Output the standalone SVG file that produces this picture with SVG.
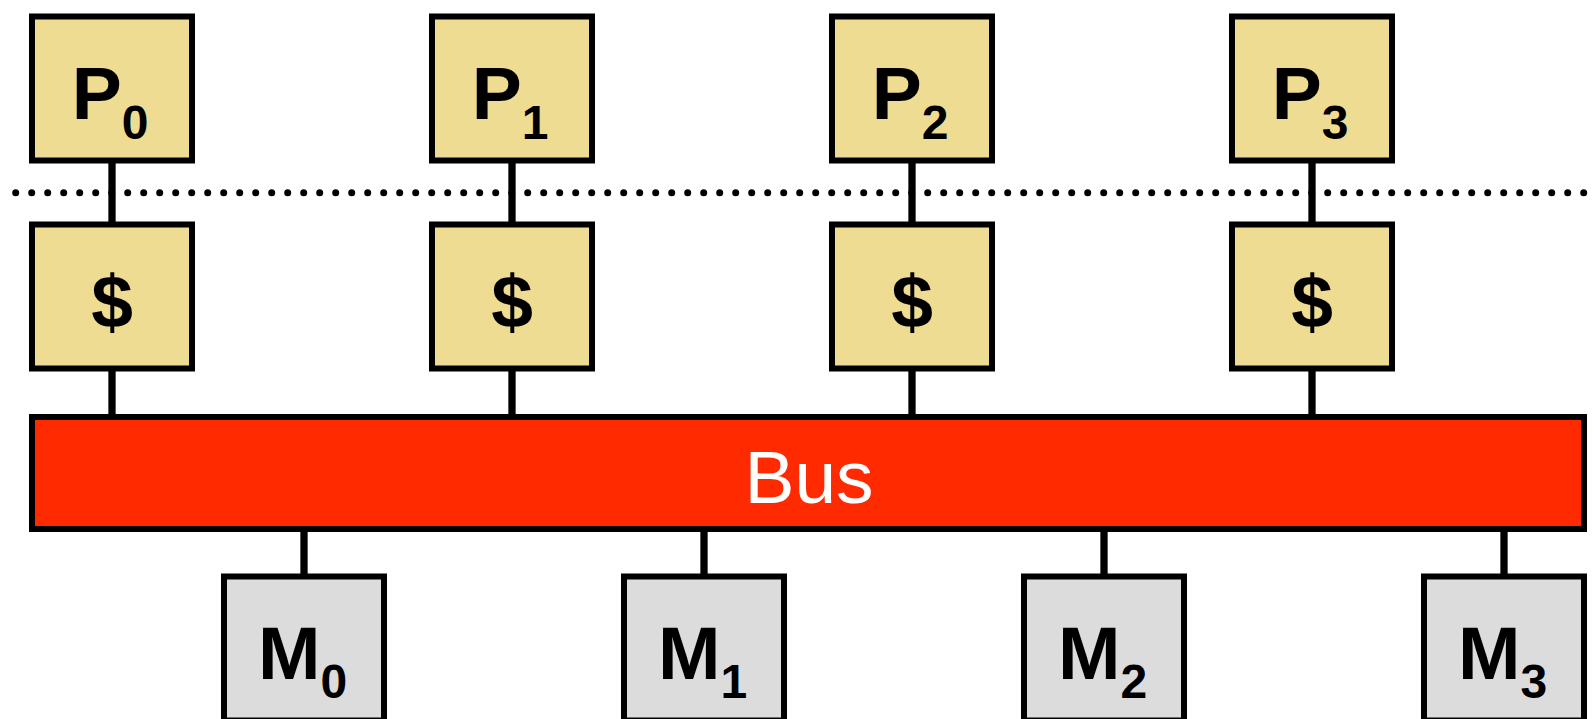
<svg xmlns="http://www.w3.org/2000/svg" width="1595" height="719" viewBox="0 0 1595 719">
<style>
.box{stroke:#000;stroke-width:6}
.p{fill:#EFDC93}
.m{fill:#DCDCDC}
.bus{fill:#FF2A00;stroke:#000;stroke-width:6}
.lbl{font-family:"Liberation Sans",Arial,sans-serif;font-weight:bold;font-size:75px;fill:#000;text-anchor:middle}
.sub{font-size:48px}
.buslbl{font-family:"Liberation Sans",Arial,sans-serif;font-size:75px;fill:#fff;text-anchor:middle}
.conn{stroke:#000;stroke-width:7.3;fill:none}
</style>
<rect width="1595" height="719" fill="#fff"/>
<g id="separator">
<line x1="15.7" y1="192.7" x2="1585" y2="192.7" stroke="#000" stroke-width="7" stroke-linecap="round" stroke-dasharray="0 16"/>
</g>
<g id="connectors">
<line class="conn" x1="112" y1="160" x2="112" y2="225"/>
<line class="conn" x1="512" y1="160" x2="512" y2="225"/>
<line class="conn" x1="912" y1="160" x2="912" y2="225"/>
<line class="conn" x1="1312" y1="160" x2="1312" y2="225"/>
<line class="conn" x1="112" y1="368" x2="112" y2="417"/>
<line class="conn" x1="512" y1="368" x2="512" y2="417"/>
<line class="conn" x1="912" y1="368" x2="912" y2="417"/>
<line class="conn" x1="1312" y1="368" x2="1312" y2="417"/>
<line class="conn" x1="304" y1="529" x2="304" y2="577"/>
<line class="conn" x1="704" y1="529" x2="704" y2="577"/>
<line class="conn" x1="1104" y1="529" x2="1104" y2="577"/>
<line class="conn" x1="1504" y1="529" x2="1504" y2="577"/>
</g>
<g id="P0"><rect class="box p" x="32" y="16.5" width="160" height="144"/><text class="lbl" x="110" y="119.3">P<tspan class="sub" dy="19.5">0</tspan></text></g>
<g id="P1"><rect class="box p" x="432" y="16.5" width="160" height="144"/><text class="lbl" x="510" y="119.3">P<tspan class="sub" dy="19.5">1</tspan></text></g>
<g id="P2"><rect class="box p" x="832" y="16.5" width="160" height="144"/><text class="lbl" x="910" y="119.3">P<tspan class="sub" dy="19.5">2</tspan></text></g>
<g id="P3"><rect class="box p" x="1232" y="16.5" width="160" height="144"/><text class="lbl" x="1310" y="119.3">P<tspan class="sub" dy="19.5">3</tspan></text></g>
<g id="C0"><rect class="box p" x="32" y="224.5" width="160" height="144"/><text class="lbl" x="112" y="326.5">$</text></g>
<g id="C1"><rect class="box p" x="432" y="224.5" width="160" height="144"/><text class="lbl" x="512" y="326.5">$</text></g>
<g id="C2"><rect class="box p" x="832" y="224.5" width="160" height="144"/><text class="lbl" x="912" y="326.5">$</text></g>
<g id="C3"><rect class="box p" x="1232" y="224.5" width="160" height="144"/><text class="lbl" x="1312" y="326.5">$</text></g>
<g id="Bus"><rect class="bus" x="32" y="417" width="1552" height="112"/><text class="buslbl" x="809" y="502.7">Bus</text></g>
<g id="M0"><rect class="box m" x="224" y="576.5" width="160" height="144"/><text class="lbl" x="302.5" y="679.3">M<tspan class="sub" dy="19">0</tspan></text></g>
<g id="M1"><rect class="box m" x="624" y="576.5" width="160" height="144"/><text class="lbl" x="702.5" y="679.3">M<tspan class="sub" dy="19">1</tspan></text></g>
<g id="M2"><rect class="box m" x="1024" y="576.5" width="160" height="144"/><text class="lbl" x="1102.5" y="679.3">M<tspan class="sub" dy="19">2</tspan></text></g>
<g id="M3"><rect class="box m" x="1424" y="576.5" width="160" height="144"/><text class="lbl" x="1502.5" y="679.3">M<tspan class="sub" dy="19">3</tspan></text></g>
</svg>
